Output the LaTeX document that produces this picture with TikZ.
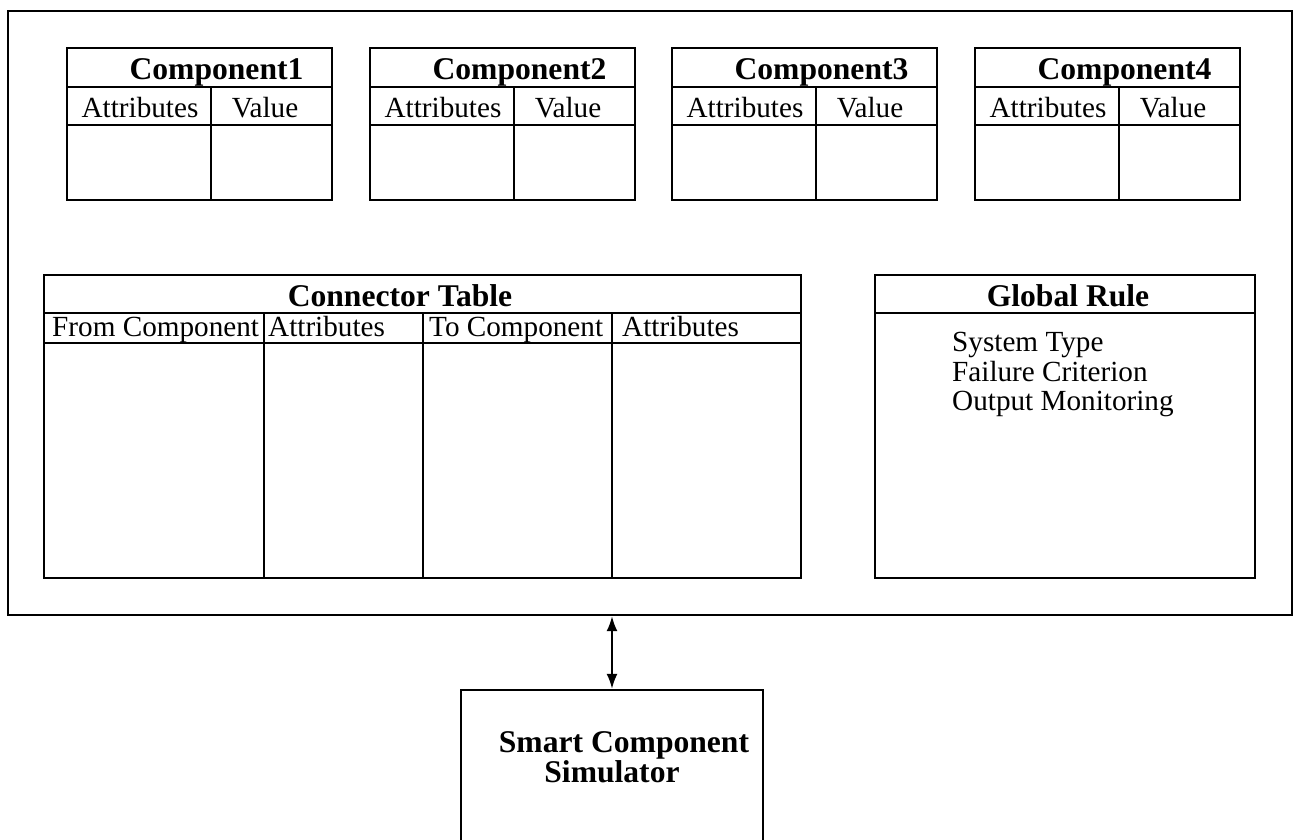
\documentclass[tikz,border=0pt]{standalone}
\usepackage{fontspec}
\setmainfont{Liberation Serif}
\usetikzlibrary{arrows.meta}
\begin{document}
\begin{tikzpicture}[x=1pt,y=-1pt,
  tbl/.style={line width=2.2pt},
  rt/.style={font=\fontsize{29.2}{34}\selectfont, inner sep=0pt},
  bt/.style={font=\fontsize{31.6}{36}\selectfont\bfseries, inner sep=0pt},
  boxnode/.style={draw, line width=2.2pt, inner sep=0pt}]
\useasboundingbox (0,0) rectangle (1298,840);
\clip (0,0) rectangle (1298,840);
\fill[white] (0,0) rectangle (1298,840);
% outer frame
\node[boxnode, minimum width=1284pt, minimum height=604pt] (outer) at (650,313) {};
% component tables
\foreach \i/\x in {1/67,2/370,3/672,4/975} {
  \draw[tbl] (\x,48) rectangle (\x+265,200);
  \draw[tbl] (\x,87) -- (\x+265,87) (\x,125) -- (\x+265,125) (\x+144,87) -- (\x+144,200);
  \node[bt, anchor=base] (comp\i) at (\x+149.5,80) {Component\i};
  \node[rt, anchor=base] (attr\i) at (\x+73,118) {Attributes};
  \node[rt, anchor=base] (val\i) at (\x+198,118) {Value};
}
% connector table
\draw[tbl] (44,275) rectangle (801,578);
\draw[tbl] (44,313) -- (801,313) (44,343) -- (801,343)
  (264,313) -- (264,578) (423,313) -- (423,578) (612,313) -- (612,578);
\node[bt, anchor=base] (ctitle) at (400,306) {Connector Table};
\node[rt, anchor=base west] (cfrom) at (52,336) {From Component};
\node[rt, anchor=base west] (cattr1) at (268,336) {Attributes};
\node[rt, anchor=base west] (cto) at (429,336) {To Component};
\node[rt, anchor=base west] (cattr2) at (622,336) {Attributes};
% global rule
\draw[tbl] (875,275) rectangle (1255,578);
\draw[tbl] (875,313) -- (1255,313);
\node[bt, anchor=base] (gtitle) at (1068,306) {Global Rule};
\node[rt, anchor=base west] (g1) at (952,351) {System Type};
\node[rt, anchor=base west] (g2) at (952,381) {Failure Criterion};
\node[rt, anchor=base west] (g3) at (952,410) {Output Monitoring};
% simulator
\node[boxnode, minimum width=302pt, minimum height=220pt] (sim) at (612,800) {};
\node[bt, anchor=base] (s1) at (624,752) {Smart Component};
\node[bt, anchor=base] (s2) at (612,782) {Simulator};
% connector
\draw[line width=2.2pt, {Latex[length=15pt,width=11pt]}-{Latex[length=15pt,width=11pt]}]
  (sim.north |- outer.south) -- (sim.north);
\end{tikzpicture}
\end{document}
